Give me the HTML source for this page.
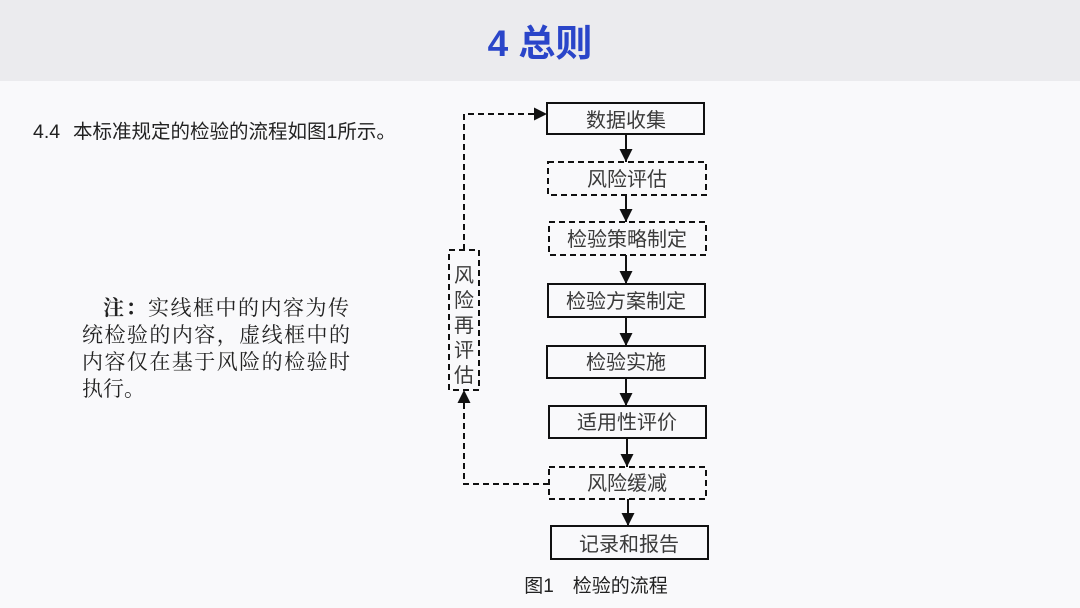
<!DOCTYPE html>
<html><head><meta charset="utf-8"><style>
html,body{margin:0;padding:0;width:1080px;height:608px;overflow:hidden;background:#f9f9fb}
svg{display:block}
</style></head><body>
<svg width="1080" height="608" viewBox="0 0 1080 608" xmlns="http://www.w3.org/2000/svg">
<defs>
<marker id="a" markerWidth="14" markerHeight="14" refX="13" refY="6.5" orient="auto" markerUnits="userSpaceOnUse"><path d="M0,0 L13,6.5 L0,13 z" fill="#111"/></marker>
</defs>
<rect x="0" y="0" width="1080" height="81" fill="#ebebee"/>
<text x="540" y="56" text-anchor="middle" font-family="Liberation Sans, Noto Sans CJK SC, sans-serif" font-weight="bold" font-size="37" fill="#2a45c9">4 总则</text>
<g font-family="Liberation Sans, Noto Sans CJK SC, sans-serif" font-size="19.5" fill="#222">
<text x="33" y="138">4.4</text>
<text x="73" y="138">本标准规定的检验的流程如图1所示。</text>
</g>
<g font-family="Liberation Serif, Noto Serif CJK SC, serif" font-size="21" fill="#222">
<text x="103" y="315" textLength="246"><tspan font-weight="bold">注：</tspan>实线框中的内容为传</text>
<text x="82" y="342" textLength="268">统检验的内容，虚线框中的</text>
<text x="82" y="369" textLength="268">内容仅在基于风险的检验时</text>
<text x="82" y="396">执行。</text>
</g>
<g fill="none" stroke="#111" stroke-width="2">
<rect x="547" y="103" width="157" height="31"/>
<rect x="548" y="162" width="158" height="33" stroke-dasharray="6,4"/>
<rect x="549" y="222" width="157" height="33" stroke-dasharray="6,4"/>
<rect x="548" y="284" width="157" height="33"/>
<rect x="547" y="346" width="158" height="32"/>
<rect x="549" y="406" width="157" height="32"/>
<rect x="549" y="467" width="157" height="32" stroke-dasharray="6,4"/>
<rect x="551" y="526" width="157" height="33"/>
<rect x="449" y="250" width="30" height="140" stroke-dasharray="6,4"/>
<line x1="626" y1="134" x2="626" y2="162" marker-end="url(#a)"/>
<line x1="626" y1="195" x2="626" y2="222" marker-end="url(#a)"/>
<line x1="626" y1="255" x2="626" y2="284" marker-end="url(#a)"/>
<line x1="626" y1="317" x2="626" y2="346" marker-end="url(#a)"/>
<line x1="626" y1="378" x2="626" y2="406" marker-end="url(#a)"/>
<line x1="627" y1="438" x2="627" y2="467" marker-end="url(#a)"/>
<line x1="628" y1="499" x2="628" y2="526" marker-end="url(#a)"/>
<polyline points="549,484 464,484 464,390" stroke-dasharray="6,4" marker-end="url(#a)"/>
<polyline points="464,250 464,114 547,114" stroke-dasharray="6,4" marker-end="url(#a)"/>
</g>
<g font-family="Liberation Sans, Noto Sans CJK SC, sans-serif" font-size="20" fill="#3a3a3a" text-anchor="middle">
<text x="626" y="127">数据收集</text>
<text x="627" y="186">风险评估</text>
<text x="627" y="246">检验策略制定</text>
<text x="626" y="308">检验方案制定</text>
<text x="626" y="369">检验实施</text>
<text x="627" y="429">适用性评价</text>
<text x="627" y="490">风险缓减</text>
<text x="629" y="551">记录和报告</text>
<text x="464" y="282">风</text>
<text x="464" y="307">险</text>
<text x="464" y="332">再</text>
<text x="464" y="357">评</text>
<text x="464" y="382">估</text>
<text x="596" y="592" font-size="19" fill="#222">图1　检验的流程</text>
</g>
</svg>
</body></html>
